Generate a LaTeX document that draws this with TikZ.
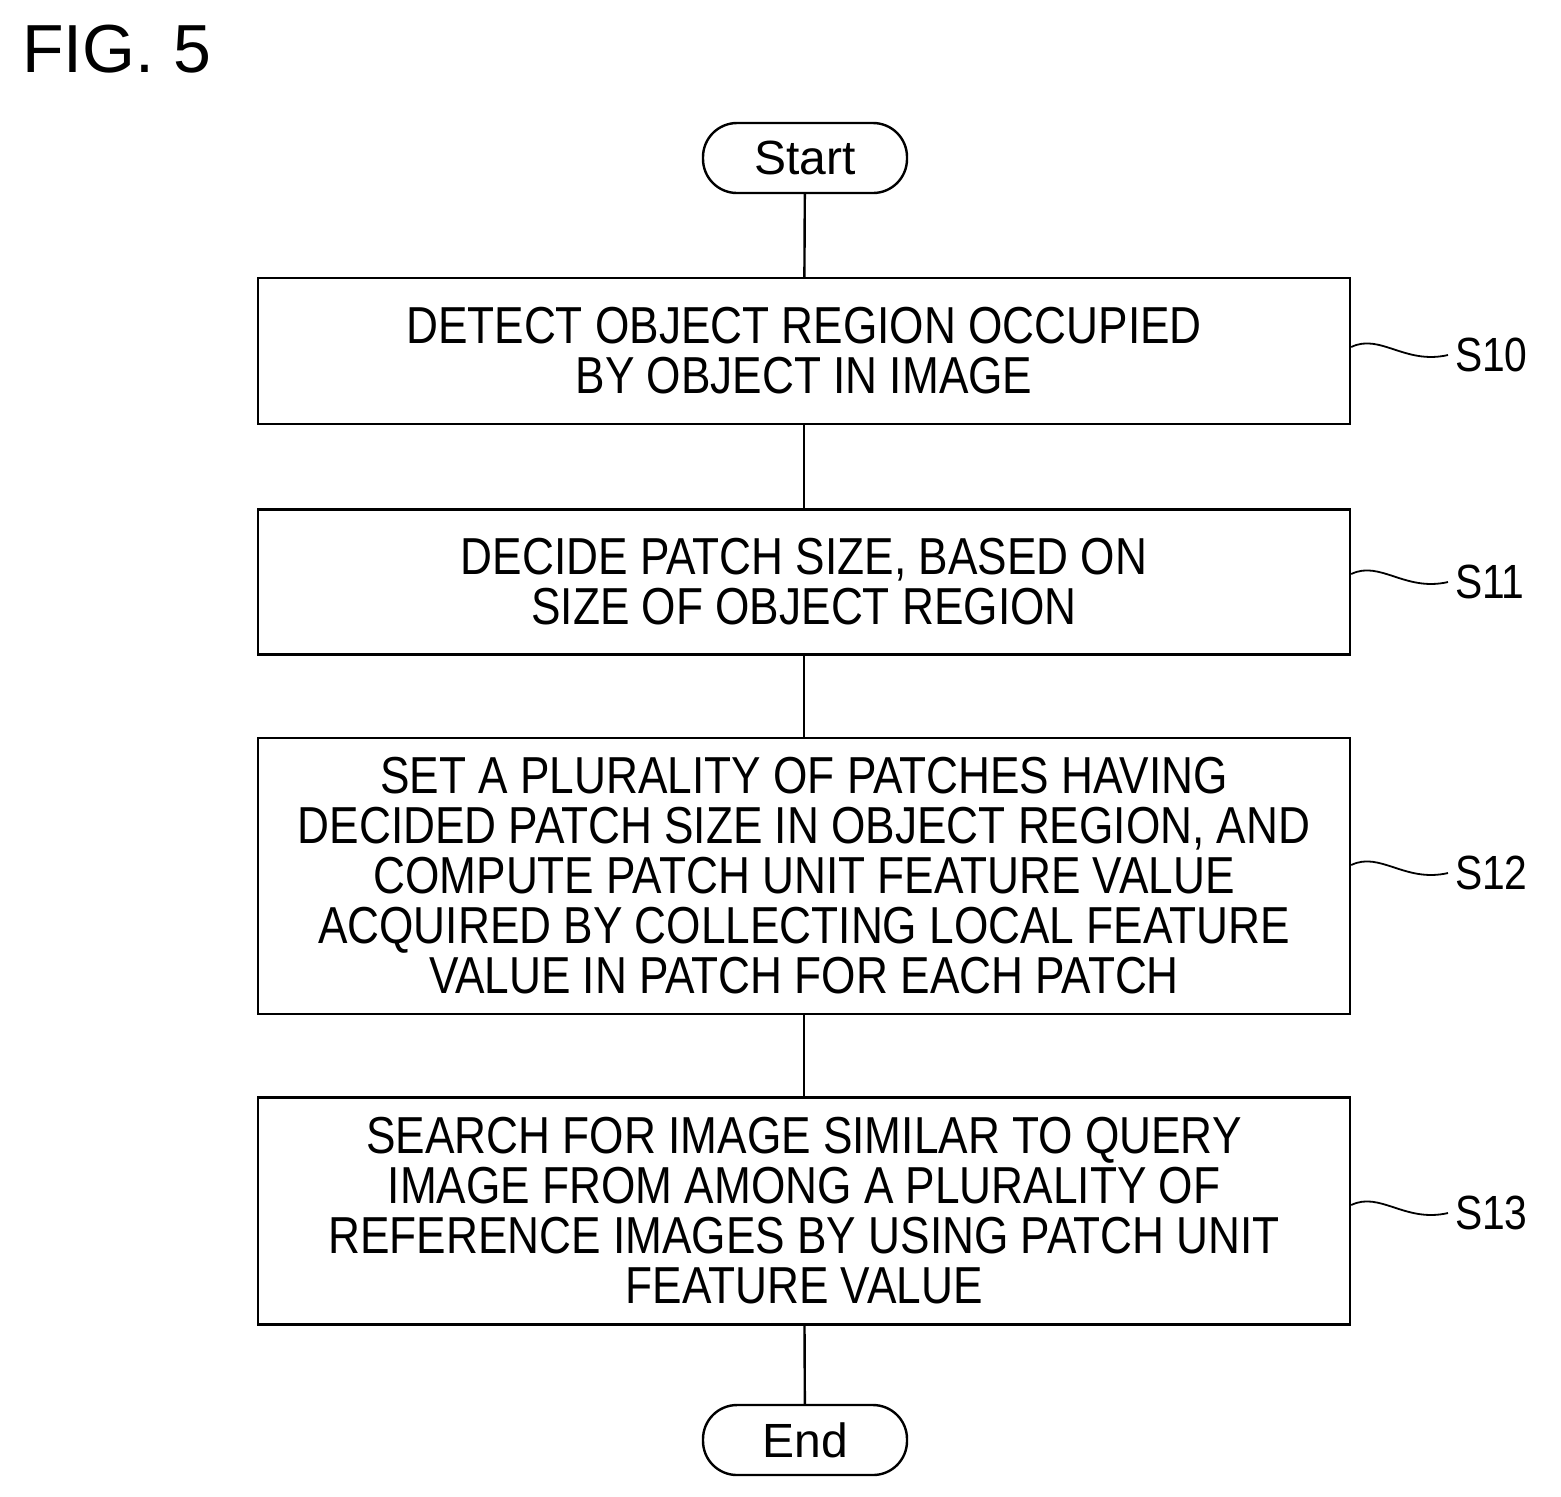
\documentclass[tikz,border=0pt]{standalone}
\usepackage{fontspec}
\setmainfont{Liberation Sans}
\newfontfamily\condf[FakeStretch=0.85]{Liberation Sans}
\begin{document}
\begin{tikzpicture}[x=0.5pt,y=-0.5pt,
  box/.style={draw,line width=1.2pt,minimum width=546pt,align=center,inner sep=0pt,font=\condf\fontsize{26}{25}\selectfont},
  term/.style={draw,line width=1.2pt,rounded corners=17pt,minimum width=102pt,minimum height=35pt,inner sep=0pt,font=\fontsize{24}{24}\selectfont},
  lab/.style={font=\condf\fontsize{24}{24}\selectfont,anchor=west},
  sq/.style={line width=0.9pt},
  ln/.style={line width=1.2pt}]
\useasboundingbox (0,0) rectangle (1561,1496);
\node[anchor=north west,font=\fontsize{34}{34}\selectfont] (fig) at (15,18) {FIG. 5};
\node[term] (start) at (805,158) {Start};
\node[box,minimum height=73pt] (s10) at (804,351) {DETECT OBJECT REGION OCCUPIED\\BY OBJECT IN IMAGE};
\node[box,minimum height=72.5pt] (s11) at (804,582) {DECIDE PATCH SIZE, BASED ON\\SIZE OF OBJECT REGION};
\node[box,minimum height=138pt] (s12) at (804,876) {SET A PLURALITY OF PATCHES HAVING\\DECIDED PATCH SIZE IN OBJECT REGION, AND\\COMPUTE PATCH UNIT FEATURE VALUE\\ACQUIRED BY COLLECTING LOCAL FEATURE\\VALUE IN PATCH FOR EACH PATCH};
\node[box,minimum height=113.5pt] (s13) at (804,1211) {SEARCH FOR IMAGE SIMILAR TO QUERY\\IMAGE FROM AMONG A PLURALITY OF\\REFERENCE IMAGES BY USING PATCH UNIT\\FEATURE VALUE};
\node[term] (end) at (805,1440) {End};
\draw[ln] (start) -- (s10);
\draw[ln] (s10) -- (s11);
\draw[ln] (s11) -- (s12);
\draw[ln] (s12) -- (s13);
\draw[ln] (s13) -- (end);
\foreach \n/\t/\y in {s10/S10/355,s11/S11/582,s12/S12/873,s13/S13/1213}{
  \node[lab] (l\n) at (1448,\y) {\t};
  \draw[sq] (\n.east |- 0,\y-8) .. controls (1380,\y-22) and (1405,\y+10) .. (l\n.west);
}
\end{tikzpicture}
\end{document}
